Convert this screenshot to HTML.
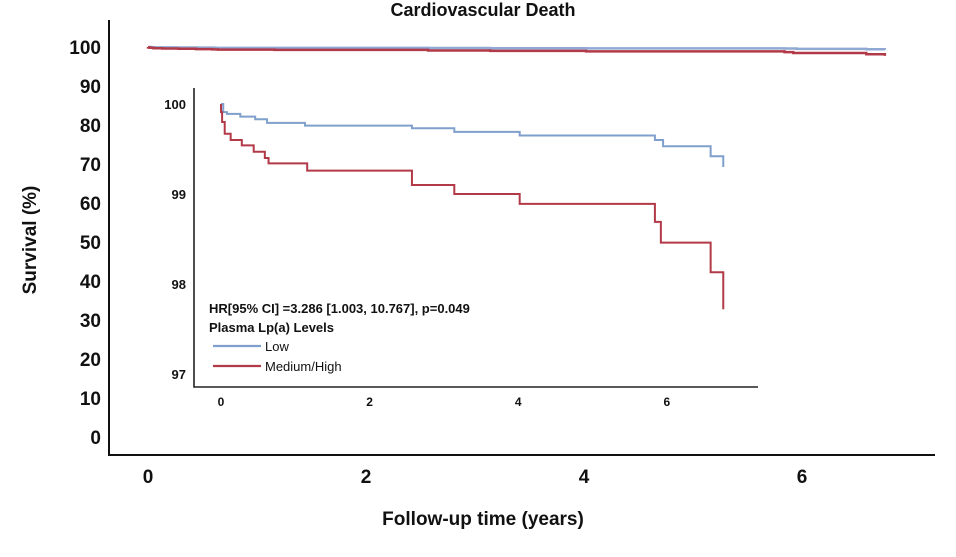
<!DOCTYPE html>
<html><head><meta charset="utf-8"><style>
body{margin:0;background:#fff}
svg text{font-family:"Liberation Sans",Arial,sans-serif;font-weight:bold;fill:#111}
</style></head><body>
<svg id="chart" width="956" height="552" viewBox="0 0 956 552" xmlns="http://www.w3.org/2000/svg">
<text x="483" y="16" font-size="18" text-anchor="middle">Cardiovascular Death</text>
<text transform="translate(36,240) rotate(-90)" font-size="19" text-anchor="middle">Survival (%)</text>
<text x="483" y="525" font-size="19" text-anchor="middle">Follow-up time (years)</text>
<g id="main"></g>
<g id="inset"></g>
<g>
<text x="209" y="313" font-size="13">HR[95% CI] =3.286 [1.003, 10.767], p=0.049</text>
<text x="209" y="332" font-size="13">Plasma Lp(a) Levels</text>
<line x1="213" y1="346" x2="261" y2="346" stroke="#7f9fcc" stroke-width="2.2"/>
<text x="265" y="351" font-size="13" style="font-weight:normal">Low</text>
<line x1="213" y1="366" x2="261" y2="366" stroke="#b23a48" stroke-width="2.2"/>
<text x="265" y="371" font-size="13" style="font-weight:normal">Medium/High</text>
</g>
</svg>
<script>
const lowTimes=[0.03,0.08,0.26,0.46,0.62,1.13,2.57,3.14,4.02,5.84,5.95,6.59,6.76];
const lowSurv=[99.91,99.89,99.86,99.83,99.79,99.76,99.73,99.69,99.65,99.6,99.53,99.42,99.3];
const highTimes=[0,0.015,0.05,0.13,0.28,0.44,0.59,0.64,1.16,2.57,3.14,4.02,5.84,5.92,6.59,6.76];
const highSurv=[99.91,99.8,99.67,99.6,99.54,99.47,99.4,99.34,99.26,99.1,99.0,98.89,98.69,98.46,98.13,97.72];
const mainYTicks=[0,10,20,30,40,50,60,70,80,90,100];
const mainXTicks=[0,2,4,6];
const insetYTicks=[97,98,99,100];
const insetXTicks=[0,2,4,6];

const NS="http://www.w3.org/2000/svg";
function mk(tag,attrs,parent){const e=document.createElementNS(NS,tag);for(const k in attrs)e.setAttribute(k,attrs[k]);parent.appendChild(e);return e;}
function stepPath(times,surv,xs,ys){
  let d="M"+xs(0)+","+ys(100);
  for(let i=0;i<times.length;i++){d+=" H"+xs(times[i])+" V"+ys(surv[i]);}
  return d;
}
// main
const mx=t=>148+t*109, my=v=>437-v*3.9;
const g=document.getElementById('main');
let a=mk('path',{d:"M109,20 V455 H935",fill:"none",stroke:"#111","stroke-width":2},g);


mainYTicks.forEach(v=>{const t=mk('text',{x:101,y:my(v)+7,"font-size":19,"text-anchor":"end"},g);t.textContent=v;

});
mainXTicks.forEach(v=>{const t=mk('text',{x:mx(v),y:483,"font-size":19,"text-anchor":"middle"},g);t.textContent=v;

});
let p1=mk('path',{d:stepPath(lowTimes,lowSurv,mx,my),fill:"none",stroke:"#8fa9d4","stroke-width":2.5},g);


let p2=mk('path',{d:stepPath(highTimes,highSurv,mx,my),fill:"none",stroke:"#b23a48","stroke-width":2.5},g);


// inset
const ix=t=>221+t*74.3, iy=v=>104+(100-v)*90;
const h=document.getElementById('inset');
let b=mk('path',{d:"M194,88 V387 H758",fill:"none",stroke:"#222","stroke-width":1.6},h);


insetYTicks.forEach(v=>{const t=mk('text',{x:186,y:iy(v)+5,"font-size":13,"text-anchor":"end"},h);t.textContent=v;

});
insetXTicks.forEach(v=>{const t=mk('text',{x:ix(v),y:406,"font-size":12,"text-anchor":"middle"},h);t.textContent=v;

});
let q1=mk('path',{d:stepPath(lowTimes,lowSurv,ix,iy),fill:"none",stroke:"#7f9fcc","stroke-width":2},h);


let q2=mk('path',{d:stepPath(highTimes,highSurv,ix,iy),fill:"none",stroke:"#b23a48","stroke-width":2},h);


</script>
</body></html>
